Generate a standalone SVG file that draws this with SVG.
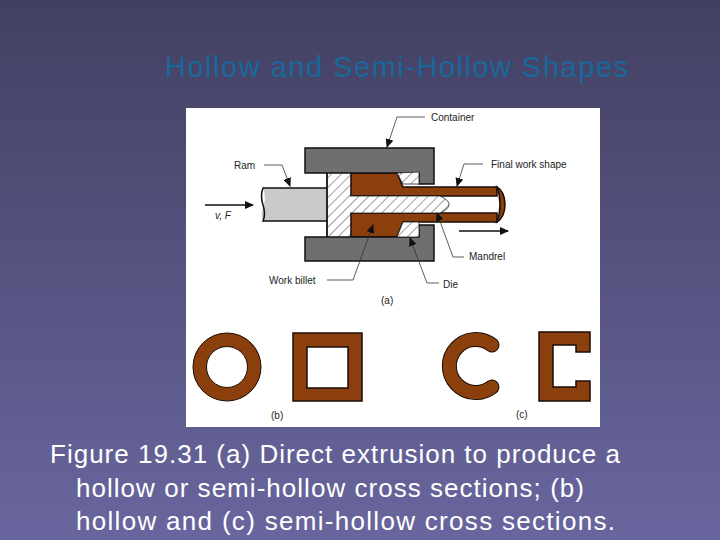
<svg xmlns="http://www.w3.org/2000/svg" width="720" height="540" viewBox="0 0 720 540">
<style>
.t{font-family:"Liberation Sans",Arial,sans-serif}
.body{font-size:26px;fill:#fff}
.lab{font-size:10px;fill:#222}
.br{fill:#8a3f0c;stroke:#1a0d05;stroke-width:1.5}
.gr{fill:#6f6f6f;stroke:#111;stroke-width:1.5}
.hat{fill:url(#hatch)}
.ln{fill:none;stroke:#333;stroke-width:.8}
</style>
<defs>
<linearGradient id="bg" x1="0" y1="0" x2="0" y2="1"><stop offset="0" stop-color="#424061"/><stop offset="1" stop-color="#69669f"/></linearGradient>
<pattern id="hatch" width="7" height="7" patternUnits="userSpaceOnUse" patternTransform="rotate(45)"><rect width="7" height="7" fill="#fff"/><line x1="0" y1="0" x2="0" y2="7" stroke="#777" stroke-width="1.4"/></pattern>
<marker id="ah" markerWidth="9" markerHeight="8" refX="8" refY="4" orient="auto" markerUnits="userSpaceOnUse"><path d="M0 0L9 4L0 8z" fill="#111"/></marker>
</defs>
<rect width="720" height="540" fill="url(#bg)"/>
<text class="t" x="165" y="77" font-size="29" fill="#18689c" textLength="463" lengthAdjust="spacing">Hollow and Semi-Hollow Shapes</text>
<rect x="186" y="108" width="414" height="319" fill="#fff"/>
<g id="ram"><path d="M263 188H327V221H263Q260 214 264 205Q266 196 263 188Z" fill="#cacaca" stroke="none"/><path d="M327 188H263Q260 196 263 205Q266 214 263 221H327" fill="none" stroke="#111" stroke-width="1.5"/></g>
<g id="billet">
<rect x="327" y="173" width="25" height="64" class="hat"/>
<path d="M350 196H440Q449 200 449 204Q449 209 440 213H350Z" class="hat"/>
<path d="M351 173H397L403 187H497V196H440H351Z" class="br"/>
<path d="M351 237H397L403 222H497V213H440H351Z" class="br"/>
<path d="M351 196H440Q449 200 449 204.500Q449 209 440 213H351" class="hat" stroke="#222" stroke-width=".8"/>
<path d="M497 187Q505 192 505 204.500Q505 217 497 222Q500 214 500 204.500Q500 195 497 187Z" class="br"/>
<path d="M327 173V237" stroke="#111" stroke-width="1.8"/>
</g>
<g id="container"><path d="M305 148H434V184H419V173H305Z" class="gr"/><path d="M305 237H419V225H434V261H305Z" class="gr"/></g>
<g id="die"><path d="M397 173L419 172V184H403Z" class="hat" stroke="#222" stroke-width=".8"/><path d="M403 222H419V237H397Z" class="hat" stroke="#222" stroke-width=".8"/></g>
<g id="connectors">
<path class="ln" d="M264 165H282L290 186" marker-end="url(#ah)"/>
<path class="ln" d="M425 117H397L387 147" marker-end="url(#ah)"/>
<path class="ln" d="M483 164H464L457 186" marker-end="url(#ah)"/>
<path class="ln" d="M464 257H453L437 213" marker-end="url(#ah)"/>
<path class="ln" d="M439 283H427L410 238" marker-end="url(#ah)"/>
<path class="ln" d="M327 280H353L373 225" marker-end="url(#ah)"/>
<path d="M205 205H253" stroke="#111" stroke-width="1.5" marker-end="url(#ah)"/>
<path d="M459 231H508" stroke="#111" stroke-width="1.5" marker-end="url(#ah)"/>
</g>
<g id="labels" class="t">
<text class="lab" x="234" y="169">Ram</text>
<text class="lab" x="431" y="121">Container</text>
<text class="lab" x="491" y="168">Final work shape</text>
<text class="lab" x="469" y="260">Mandrel</text>
<text class="lab" x="443" y="288">Die</text>
<text class="lab" x="269" y="284">Work billet</text>
<text class="lab" x="215" y="219" font-style="italic">v, F</text>
<text class="lab" x="381" y="304">(a)</text>
<text class="lab" x="271" y="419">(b)</text>
<text class="lab" x="516" y="418">(c)</text>
</g>
<g id="ring"><circle cx="227" cy="367" r="27.300" fill="none" stroke="#8a3f0c" stroke-width="13.500"/><circle cx="227" cy="367" r="34" fill="none" stroke="#1a0d05"/><circle cx="227" cy="367" r="20.500" fill="none" stroke="#1a0d05"/></g>
<g id="square"><path d="M293 333H362V401H293ZM307 347V388H348V347Z" class="br" fill-rule="evenodd"/></g>
<g id="c-shape"><path d="M492 345A26.500 26.500 0 1 0 492 387" fill="none" stroke="#1a0d05" stroke-width="15" stroke-linecap="round"/><path d="M492 345A26.500 26.500 0 1 0 492 387" fill="none" stroke="#8a3f0c" stroke-width="13" stroke-linecap="round"/></g>
<g id="c-square"><path class="br" d="M539 332H590V352H576V345H553V387H576V381H590V401H539Z"/></g>
<g id="caption" class="t">
<text class="body" x="50" y="463" textLength="570" lengthAdjust="spacing">Figure 19.31  (a) Direct extrusion to produce a</text>
<text class="body" x="76" y="497" textLength="508" lengthAdjust="spacing">hollow or semi‑hollow cross sections; (b)</text>
<text class="body" x="76" y="530" textLength="539" lengthAdjust="spacing">hollow and (c) semi‑hollow cross sections.</text>
</g>
</svg>
